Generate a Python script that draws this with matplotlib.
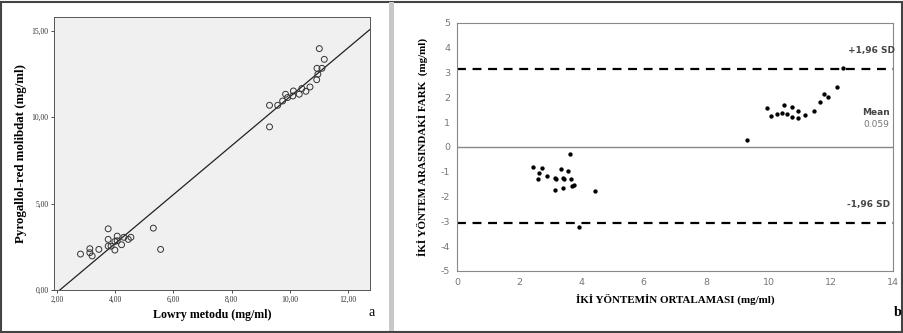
import matplotlib.pyplot as plt
from matplotlib.patches import Rectangle

plt.rcParams['axes.unicode_minus'] = False

# Panel a: Lowry vs Pyrogallol-red molibdat
lowry = [2.81, 3.13, 3.13, 3.21, 3.44, 3.76, 3.76, 3.76, 3.86, 3.99, 3.99, 4.07, 4.07,
         4.22, 4.30, 4.45, 4.54, 5.31, 5.56,
         9.30, 9.30, 9.58, 9.75, 9.85, 9.92, 10.10, 10.12, 10.32, 10.41, 10.55, 10.69,
         10.92, 10.96, 10.93, 11.10, 11.01, 11.18]
prm = [2.08, 2.39, 2.16, 1.97, 2.35, 3.54, 2.93, 2.54, 2.54, 2.81, 2.31, 3.12, 2.85,
       2.62, 3.05, 2.93, 3.05, 3.58, 2.35,
       10.69, 9.44, 10.69, 10.94, 11.33, 11.14, 11.23, 11.52, 11.33, 11.66, 11.50, 11.75,
       12.17, 12.49, 12.83, 12.83, 13.97, 13.35]
fit_x = [2.1, 12.75]
fit_y = [0.0, 15.08]
a_xticks = [2, 4, 6, 8, 10, 12]
a_yticks = [0, 5, 10, 15]

# Panel b: Bland-Altman
bland_mean = [2.44, 2.59, 2.64, 2.74, 2.88, 3.14, 3.19, 3.14, 3.33, 3.39, 3.44, 3.41,
              3.58, 3.64, 3.67, 3.68, 3.75, 3.91, 4.42,
              9.30, 9.95, 10.08, 10.29, 10.45, 10.51, 10.59, 10.75, 10.75, 10.94, 10.94,
              11.16, 11.47, 11.66, 11.80, 11.91, 12.20, 12.41]
bland_diff = [-0.81, -1.31, -1.04, -0.84, -1.15, -1.27, -1.31, -1.74, -0.90, -1.23, -1.30,
              -1.65, -0.98, -0.28, -1.29, -1.57, -1.53, -3.24, -1.76,
              0.28, 1.57, 1.25, 1.35, 1.37, 1.68, 1.35, 1.61, 1.22, 1.47, 1.15,
              1.29, 1.46, 1.80, 2.13, 2.01, 2.42, 3.18]
upper_loa = 3.16
lower_loa = -3.05
b_xticks = [0, 2, 4, 6, 8, 10, 12, 14]
b_yticks = [-5, -4, -3, -2, -1, 0, 1, 2, 3, 4, 5]

W, H = 904, 333
fig = plt.figure(figsize=(W / 100, H / 100), dpi=100)

def px(l, t, r, b):
    return [l / W, 1 - b / H, (r - l) / W, (b - t) / H]

# outer frame and separator
fig.patches.append(Rectangle((1 / W, 1 / H), 1 - 3 / W, 1 - 3 / H, transform=fig.transFigure,
                             fill=False, edgecolor='#444444', linewidth=1.5))
fig.patches.append(Rectangle((389 / W, 2 / H), 5 / W, 1 - 4 / H, transform=fig.transFigure,
                             facecolor='#c8c8c8', edgecolor='none'))

serif = 'Liberation Serif'

# ---- panel a ----
ax1 = fig.add_axes(px(54, 17, 370, 290))
ax1.set_facecolor('#f0f0f0')
ax1.scatter(lowry, prm, s=18, facecolors='none', edgecolors='#333333', linewidths=0.7, zorder=3)
ax1.plot(fit_x, fit_y, color='#222222', linewidth=0.9)
ax1.set_xlim(1.9, 12.75)
ax1.set_ylim(0, 15.8)
ax1.set_xticks(a_xticks)
ax1.set_yticks(a_yticks)
ax1.set_xticklabels(['%d,00' % v for v in a_xticks], fontsize=5.5, family=serif)
ax1.set_yticklabels(['%d,00' % v for v in a_yticks], fontsize=5.5, family=serif)
ax1.tick_params(length=2.5, width=0.6, pad=1.5, colors='#333333')
for s in ax1.spines.values():
    s.set_color('#555555')
    s.set_linewidth(0.7)
ax1.set_xlabel('Lowry metodu (mg/ml)', fontsize=8.6, fontweight='bold', family=serif, labelpad=4)
ax1.set_ylabel('Pyrogallol-red molibdat (mg/ml)', fontsize=9.3, fontweight='bold', family=serif, labelpad=3)
fig.text(372 / W, 1 - 313 / H, 'a', fontsize=10, family=serif, ha='center', va='center')

# ---- panel b ----
ax2 = fig.add_axes(px(457, 23, 893, 271))
ax2.scatter(bland_mean, bland_diff, s=4.5, color='black', zorder=3)
ax2.axhline(0, color='#888888', linewidth=1.0)
ax2.axhline(upper_loa, color='black', linewidth=1.6, linestyle=(0, (4, 3)))
ax2.axhline(lower_loa, color='black', linewidth=1.6, linestyle=(0, (4, 3)))
ax2.set_xlim(0, 14)
ax2.set_ylim(-5, 5)
ax2.set_xticks(b_xticks)
ax2.set_yticks(b_yticks)
ax2.tick_params(length=0, labelsize=6.8, labelcolor='#777777', pad=5)
for s in ax2.spines.values():
    s.set_color('#888888')
    s.set_linewidth(0.8)
ax2.set_xlabel('İKİ YÖNTEMİN ORTALAMASI (mg/ml)', fontsize=7.9, fontweight='bold', family=serif, labelpad=5)
ax2.set_ylabel('İKİ YÖNTEM ARASINDAKİ FARK  (mg/ml)', fontsize=7.9, fontweight='bold', family=serif, labelpad=9)
ax2.text(13.3, 3.9, '+1,96 SD', fontsize=6.5, fontweight='bold', color='#444444', ha='center', va='center')
ax2.text(13.45, 1.38, 'Mean', fontsize=6.5, fontweight='bold', color='#444444', ha='center', va='center')
ax2.text(13.45, 0.9, '0.059', fontsize=6.5, color='#777777', ha='center', va='center')
ax2.text(13.2, -2.33, '-1,96 SD', fontsize=6.5, fontweight='bold', color='#444444', ha='center', va='center')
fig.text(898 / W, 1 - 312 / H, 'b', fontsize=10, fontweight='bold', family=serif, ha='center', va='center')

fig.savefig('out.png', dpi=100)
